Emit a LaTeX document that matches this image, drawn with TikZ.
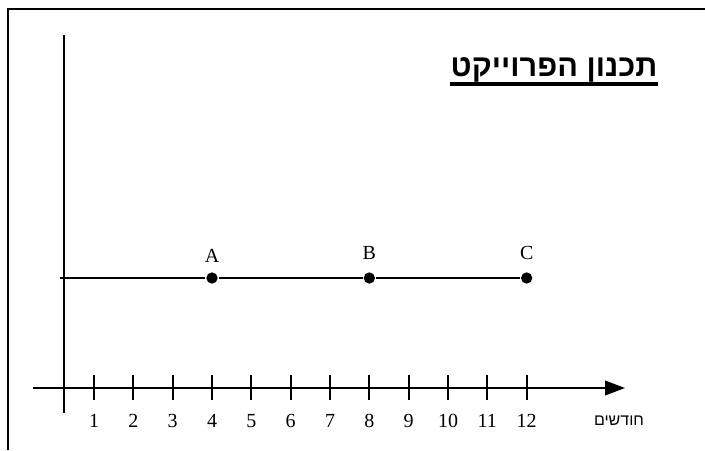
\documentclass[tikz,border=0pt]{standalone}
\usepackage{fontspec}
\setmainfont{Liberation Serif}
\newfontfamily\hebfont[Script=Hebrew]{Liberation Sans}
\TeXXeTstate=1
\usetikzlibrary{positioning,arrows.meta}

\begin{document}
\begin{tikzpicture}[x=0.75pt, y=-0.75pt, node distance=29.5pt, line width=1.3pt,
	num/.style={font=\fontsize{15}{17}\selectfont, inner sep=0pt},
	dot/.style={circle, fill=black, inner sep=0pt, minimum size=8.5pt}]
	\useasboundingbox (0,0) rectangle (705,450);

	% Frame
	\draw[line width=1.3pt] (8,450) -- (8,9) -- (705,9);

	% Axes
	\coordinate (ytop) at (64,35);
	\coordinate (ybot) at (64,413);
	\coordinate (xleft) at (33,388);
	\coordinate (xright) at (625,388);
	\draw (ytop) -- (ybot);
	\draw[-{Triangle[length=15pt, width=11pt]}] (xleft) -- (xright);

	% Tick labels
	\node (n1) [num] at (94,421) {1};
	\node (n2) [num, right of=n1] {2};
	\node (n3) [num, right of=n2] {3};
	\node (n4) [num, right of=n3] {4};
	\node (n5) [num, right of=n4] {5};
	\node (n6) [num, right of=n5] {6};
	\node (n7) [num, right of=n6] {7};
	\node (n8) [num, right of=n7] {8};
	\node (n9) [num, right of=n8] {9};
	\node (n10) [num, right of=n9] {10};
	\node (n11) [num, right of=n10] {11};
	\node (n12) [num, right of=n11] {12};
	\node (months) at (619,421) {\hebfont\fontsize{12}{14}\selectfont\beginR חודשים\endR};

	% Ticks
	\draw (n1 |- 0,375) -- (n1 |- 0,400);
	\draw (n2 |- 0,375) -- (n2 |- 0,400);
	\draw (n3 |- 0,375) -- (n3 |- 0,400);
	\draw (n4 |- 0,375) -- (n4 |- 0,400);
	\draw (n5 |- 0,375) -- (n5 |- 0,400);
	\draw (n6 |- 0,375) -- (n6 |- 0,400);
	\draw (n7 |- 0,375) -- (n7 |- 0,400);
	\draw (n8 |- 0,375) -- (n8 |- 0,400);
	\draw (n9 |- 0,375) -- (n9 |- 0,400);
	\draw (n10 |- 0,375) -- (n10 |- 0,400);
	\draw (n11 |- 0,375) -- (n11 |- 0,400);
	\draw (n12 |- 0,375) -- (n12 |- 0,400);

	% Milestones
	\coordinate (start) at (60,278);
	\node (a) [dot] at (n4 |- start) {};
	\node (b) [dot] at (n8 |- start) {};
	\node (c) [dot] at (n12 |- start) {};
	\node (la) [num, above of=a, node distance=16.5pt] {A};
	\node (lb) [num, above of=b, node distance=18.5pt] {B};
	\node (lc) [num, above of=c, node distance=18.5pt] {C};
	\draw (start) -- (a) -- (b) -- (c);

	% Title
	\node (title) [inner sep=0pt] at (554,70) {\hebfont\bfseries\fontsize{23}{25}\selectfont\beginR תכנון הפרוייקט\endR};
	\draw[line width=2.4pt] (title.south west |- 0,84) -- (title.south east |- 0,84);
\end{tikzpicture}
\end{document}
